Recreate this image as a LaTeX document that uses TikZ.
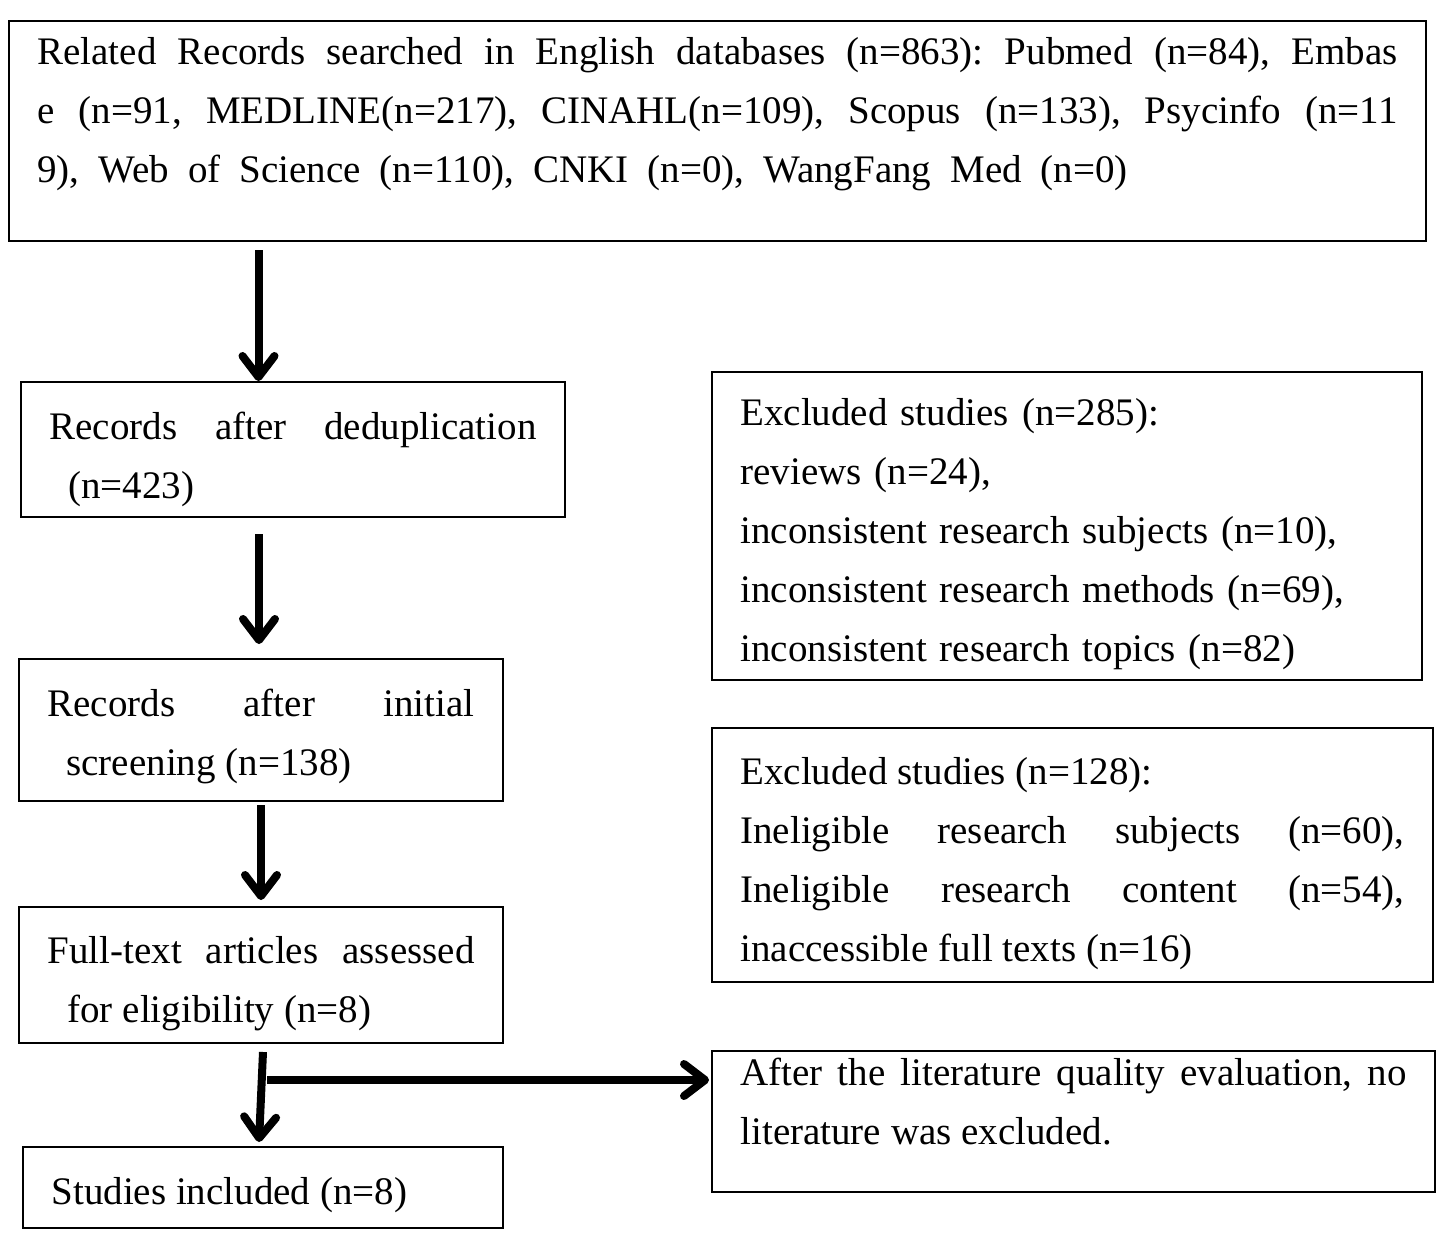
\documentclass[tikz,border=0pt]{standalone}
\usepackage{fontspec}
\setmainfont{Liberation Serif}
\usetikzlibrary{arrows.meta}
\tikzset{
  stagebox/.style={draw=black, line width=1pt, anchor=north west, inner xsep=14.25pt, inner ysep=0pt, align=justify, font=\fontsize{19.5}{29.5}\selectfont\frenchspacing},
  flow/.style={line width=4pt, -{Straight Barb[length=10.5pt, width=16pt, round]}}
}
\begin{document}
\begin{tikzpicture}[x=0.5pt,y=-0.5pt]
\useasboundingbox (0,0) rectangle (1441,1236);
% left column
\node [stagebox, text width=680pt, text height=22pt, text depth=88pt] (search) at (8,20) {\spaceskip=9.5pt plus 10pt minus 4pt Related Records searched in English databases (n=863): Pubmed (n=84), Embas\linebreak e (n=91, MEDLINE(n=217), CINAHL(n=109), Scopus (n=133), Psycinfo (n=11\linebreak 9), Web of Science (n=110), CNKI (n=0), WangFang Med (n=0)};
\node [stagebox, text width=243.5pt, text height=28.5pt, text depth=39pt] (dedup) at (20,381) {Records after deduplication\linebreak \hspace*{9.5pt}(n=423)};
\node [stagebox, text width=213.5pt, text height=28.5pt, text depth=42.5pt] (screen) at (18,658) {Records after initial\linebreak \hspace*{9.5pt}screening (n=138)};
\node [stagebox, text width=213.5pt, text height=28pt, text depth=40pt] (full) at (18,906) {Full-text articles assessed\linebreak \hspace*{10pt}for eligibility (n=8)};
\node [stagebox, text width=211.5pt, text height=28.5pt, text depth=12pt] (incl) at (22,1146) {Studies included (n=8)};
% right column
\node [stagebox, align=left, text width=326.5pt, text height=26.5pt, text depth=127.5pt] (excla) at (711,371) {Excluded studies (n=285):\\ reviews (n=24),\\ inconsistent research subjects (n=10),\\ inconsistent research methods (n=69),\\ inconsistent research topics (n=82)};
\node [stagebox, text width=332pt, text height=28pt, text depth=99pt] (exclb) at (711,727) {Excluded studies (n=128):\\ Ineligible research subjects (n=60),\linebreak Ineligible research content (n=54),\linebreak inaccessible full texts (n=16)};
\node [stagebox, text width=333pt, text height=17pt, text depth=53.5pt] (quality) at (711,1050) {After the literature quality evaluation, no\linebreak literature was excluded.};
% arrows
\draw [flow] ([xshift=-17.25pt, yshift=-4pt]search.south -| dedup.north) -- ([xshift=-17.25pt]dedup.north);
\draw [flow] ([xshift=-17pt, yshift=-8pt]dedup.south) -- ([xshift=-1pt, yshift=7pt]screen.north);
\draw [flow] ([yshift=-1.5pt]screen.south) -- ([yshift=3pt]screen.south |- full.north);
\draw [flow] ([xshift=1pt, yshift=-4pt]full.south) -- ([xshift=-2pt, yshift=2pt]incl.north);
\coordinate (split) at ([xshift=3pt, yshift=20.75pt]quality.west -| full.south);
\draw [flow] (split) -- ([xshift=-1pt]split -| quality.west);
\end{tikzpicture}
\end{document}
